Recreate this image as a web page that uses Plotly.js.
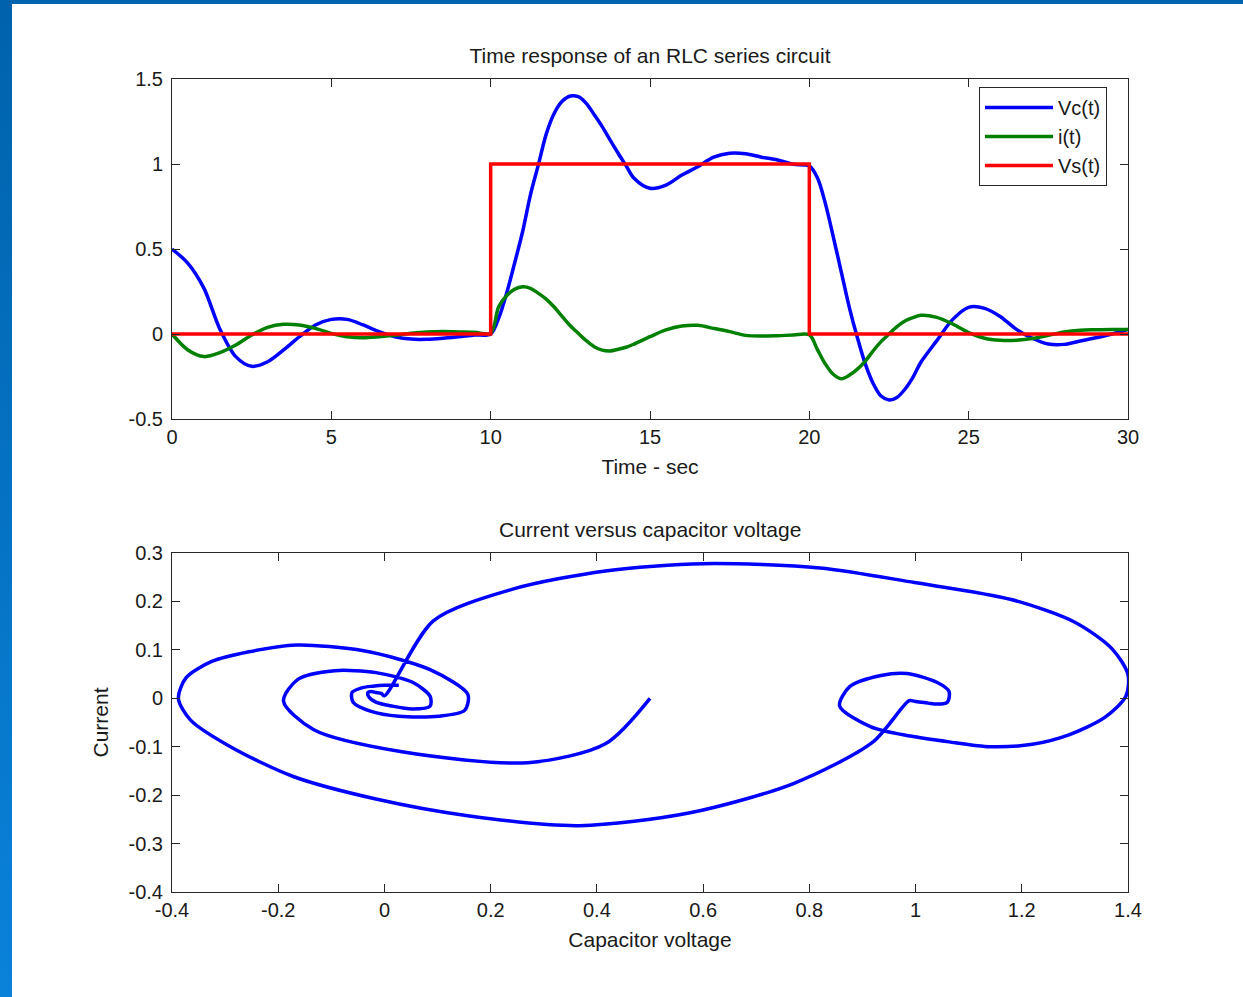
<!DOCTYPE html>
<html><head><meta charset="utf-8">
<script src="https://cdn.plot.ly/plotly-3.0.1.min.js"></script>
<style>
html,body{margin:0;padding:0;background:#fff;width:1243px;height:997px;overflow:hidden;}
#chart{position:absolute;left:0;top:0;width:1243px;height:997px;}
#fl{position:absolute;left:0;top:0;width:12px;height:997px;background:linear-gradient(#0062ac,#0a82da);z-index:5}
#ft{position:absolute;left:0;top:0;width:1243px;height:4px;background:#0064ae;z-index:5}
</style></head><body>
<div id="chart"></div><div id="ft"></div><div id="fl"></div>
<script>
// Time samples (sec)
const t = [0,0.5,1,1.5,2,2.5,3,3.5,4,4.5,5,5.5,6,6.5,7,7.5,8,8.5,9,9.5,10,
  10.25,10.5,10.75,11,11.25,11.5,11.75,12,12.25,12.5,12.75,13,13.25,13.5,13.75,
  14,14.25,14.5,15,15.5,16,16.5,17,17.5,18,18.5,19,19.5,20,
  20.25,20.5,20.75,21,21.25,21.5,21.75,22,22.25,22.5,22.75,23,23.25,23.5,
  24,24.5,25,25.5,26,26.5,27,27.5,28,28.5,29,29.5,30];
// Capacitor voltage Vc(t)
const vc = [0.50,0.416,0.27,0.03,-0.133,-0.19,-0.163,-0.094,-0.016,0.053,0.086,0.086,0.053,0.014,-0.016,-0.03,-0.031,-0.025,-0.016,-0.006,0.0,
  0.092,0.24,0.416,0.60,0.82,0.998,1.18,1.30,1.37,1.40,1.396,1.357,1.29,1.22,1.14,
  1.063,0.99,0.916,0.857,0.876,0.935,0.984,1.04,1.063,1.06,1.04,1.024,0.998,0.988,
  0.92,0.77,0.573,0.367,0.16,-0.016,-0.173,-0.29,-0.365,-0.388,-0.373,-0.325,-0.255,-0.166,
  -0.039,0.086,0.157,0.151,0.102,0.027,-0.025,-0.059,-0.061,-0.041,-0.022,0.0,0.027];
// Current i(t)
const cur = [0,-0.094,-0.133,-0.11,-0.065,-0.006,0.039,0.057,0.053,0.033,0.004,-0.016,-0.022,-0.016,-0.008,0.004,0.012,0.014,0.012,0.01,0.005,
  0.16,0.225,0.263,0.278,0.269,0.239,0.204,0.157,0.102,0.049,0.004,-0.039,-0.075,-0.095,-0.1,
  -0.09,-0.078,-0.059,-0.016,0.024,0.047,0.051,0.033,0.014,-0.008,-0.012,-0.01,-0.006,-0.005,
  -0.09,-0.176,-0.237,-0.263,-0.243,-0.208,-0.161,-0.1,-0.045,0.0,0.043,0.076,0.096,0.11,
  0.098,0.059,0.008,-0.025,-0.037,-0.037,-0.027,-0.008,0.012,0.022,0.025,0.027,0.027];
// Source voltage Vs(t): pulse
const vsT = [0,10,10,20,20,30];
const vsV = [0,0,1,1,0,0];
// Tick labels
const topXTicks = [0,5,10,15,20,25,30];
const topXText = ['0','5','10','15','20','25','30'];
const topYTicks = [-0.5,0,0.5,1,1.5];
const topYText = ['-0.5','0','0.5','1','1.5'];
const botXTicks = [-0.4,-0.2,0,0.2,0.4,0.6,0.8,1,1.2,1.4];
const botXText = ['-0.4','-0.2','0','0.2','0.4','0.6','0.8','1','1.2','1.4'];
const botYTicks = [-0.4,-0.3,-0.2,-0.1,0,0.1,0.2,0.3];
const botYText = ['-0.4','-0.3','-0.2','-0.1','0','0.1','0.2','0.3'];

const W = 1243, H = 997;
const F = 'Liberation Sans, Arial, Helvetica, sans-serif';
const TC = '#1a1a1a';
const font = {family:F, size:20, color:TC};
const tfont = {family:F, size:21, color:TC};
const axBase = {showline:true, linecolor:'#262626', linewidth:1, mirror:'ticks',
  ticks:'inside', ticklen:8, tickwidth:1, tickcolor:'#262626', showgrid:false,
  zeroline:false, tickfont:font, fixedrange:true, tickmode:'array'};
const xDom = [172/W, 1128/W];

const traces = [
  {x:t, y:vc, mode:'lines', name:'Vc(t)', line:{color:'#0000ff', width:3.5, shape:'spline', smoothing:0.9}, xaxis:'x', yaxis:'y'},
  {x:t, y:cur, mode:'lines', name:'i(t)', line:{color:'#008000', width:3.5, shape:'spline', smoothing:0.9}, xaxis:'x', yaxis:'y'},
  {x:vsT, y:vsV, mode:'lines', name:'Vs(t)', line:{color:'#ff0000', width:3.5}, xaxis:'x', yaxis:'y'},
  {x:vc, y:cur, mode:'lines', name:'phase', showlegend:false, line:{color:'#0000ff', width:3.5, shape:'spline', smoothing:0.8}, xaxis:'x2', yaxis:'y2'}
];

const layout = {
  width:W, height:H, margin:{l:0,r:0,t:0,b:0},
  paper_bgcolor:'rgba(0,0,0,0)', plot_bgcolor:'#ffffff',
  font:font, showlegend:true,
  title:{text:'Time response of an RLC series circuit', font:tfont, x:650/W, xref:'paper', y:1-56/H, yref:'paper', xanchor:'center', yanchor:'middle'},
  xaxis:Object.assign({}, axBase, {domain:xDom, range:[0,30], anchor:'y', tickvals:topXTicks, ticktext:topXText, ticklabelstandoff:0,
    title:{text:'Time - sec', font:tfont, standoff:12}}),
  yaxis:Object.assign({}, axBase, {domain:[578/H, 918/H], range:[-0.5,1.5], anchor:'x', tickvals:topYTicks, ticktext:topYText, ticklabelstandoff:4}),
  xaxis2:Object.assign({}, axBase, {domain:xDom, range:[-0.4,1.4], anchor:'y2', tickvals:botXTicks, ticktext:botXText, ticklabelstandoff:0,
    title:{text:'Capacitor voltage', font:tfont, standoff:12}}),
  yaxis2:Object.assign({}, axBase, {domain:[105/H, 444/H], range:[-0.4,0.3], anchor:'x2', tickvals:botYTicks, ticktext:botYText, ticklabelstandoff:4,
    title:{text:'Current', font:tfont, standoff:14}}),
  legend:{x:1107/W, xanchor:'right', y:1-87/H, yanchor:'top', bgcolor:'#ffffff', bordercolor:'#262626', borderwidth:1,
    font:font, itemwidth:68, tracegroupgap:0},
  annotations:[{text:'Current versus capacitor voltage', xref:'paper', yref:'paper', x:650/W, y:1-529/H,
    xanchor:'center', yanchor:'middle', showarrow:false, font:tfont}]
};

Plotly.newPlot('chart', traces, layout, {staticPlot:true, displayModeBar:false});
</script>
</body></html>
